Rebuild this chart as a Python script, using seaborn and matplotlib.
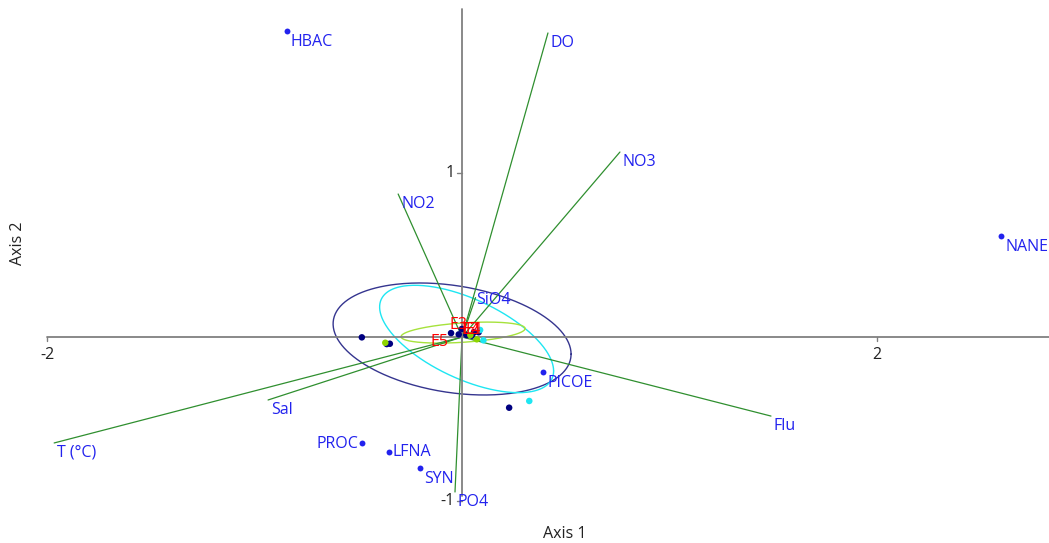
import numpy as np
import pandas as pd
import matplotlib
matplotlib.use("Agg")
import matplotlib.pyplot as plt
import seaborn as sns

# ---- biplot data -------------------------------------------------------
# species (variable) points
species = ["HBAC", "NANE", "PICOE", "PROC", "LFNA", "SYN"]
species_x = [-0.845, 2.598, 0.392, -0.482, -0.352, -0.202]
species_y = [1.868, 0.616, -0.212, -0.646, -0.701, -0.799]

# environmental vectors (drawn from the origin)
env = ["DO", "NO3", "NO2", "SiO4", "Sal", "T (°C)", "Flu", "PO4"]
env_x = [0.414, 0.761, -0.308, 0.065, -0.935, -1.966, 1.489, -0.034]
env_y = [1.854, 1.128, 0.872, 0.240, -0.384, -0.646, -0.482, -0.945]

# sample scores by group
navy_x = [-0.483, -0.363, -0.348, -0.053, -0.016, -0.001, 0.021, 0.048, 0.058, 0.080, 0.227]
navy_y = [-0.002, -0.043, -0.041, 0.024, 0.016, 0.049, 0.012, 0.008, 0.029, 0.029, -0.431]
cyan_x = [0.087, 0.103, 0.324]
cyan_y = [0.043, -0.020, -0.390]
lime_x = [-0.370, 0.071, 0.040]
lime_y = [-0.035, -0.014, 0.012]

# sample labels
samples = ["E2", "E4", "E3", "E1", "E5"]
sample_x = [0.040, 0.045, -0.019, 0.058, -0.111]
sample_y = [0.043, 0.043, 0.073, 0.043, -0.030]

# 95% ellipses: centre and covariance (xx, xy, yy)
ell_names = ["navy", "cyan", "lime"]
ell_cx = [-0.048, 0.022, 0.005]
ell_cy = [-0.012, -0.012, 0.027]
ell_xx = [0.3289, 0.1758, 0.0893]
ell_xy = [-0.0529, -0.0817, 0.0074]
ell_yy = [0.1166, 0.1072, 0.0041]

x_ticks = [-2, 2]
y_ticks = [1, -1]

# ---- styling -----------------------------------------------------------
sns.set_theme(style="white")
plt.rcParams["font.family"] = ["Open Sans", "DejaVu Sans"]
FS = 11.5
BLUE = "#2222ee"
NAVY = "#000080"
GREEN = "#2f8f2f"
ell_colors = {"navy": "#35358f", "cyan": "#1ee6f2", "lime": "#a6e23c"}
pt_colors = {"navy": NAVY, "cyan": "#1ee6f2", "lime": "#8ed400"}

fig = plt.figure(figsize=(10.49, 5.43), dpi=100)
ax = fig.add_axes([0, 0, 1, 1])
ax.set_xlim(-2.227, 2.829)
ax.set_ylim(-1.256, 2.055)
ax.axis("off")

# ellipses
t = np.linspace(0, 2 * np.pi, 361)
circle = np.vstack([np.cos(t), np.sin(t)])
for name, cx, cy, sxx, sxy, syy in zip(ell_names, ell_cx, ell_cy, ell_xx, ell_xy, ell_yy):
    L = np.linalg.cholesky(np.array([[sxx, sxy], [sxy, syy]]))
    pts = L @ circle
    df = pd.DataFrame({"x": cx + pts[0], "y": cy + pts[1]})
    sns.lineplot(data=df, x="x", y="y", sort=False, estimator=None,
                 color=ell_colors[name], lw=1.0, ax=ax, zorder=2)

# environmental vectors
for ex, ey in zip(env_x, env_y):
    ax.plot([0, ex], [0, ey], color=GREEN, lw=0.9, zorder=3)

# axes through the origin
ax.plot([-2, 2.829], [0, 0], color="#808080", lw=1.3, zorder=4)
ax.plot([0, 0], [-0.97, 2.0], color="#808080", lw=1.3, zorder=4)
for xt in x_ticks:
    ax.plot([xt, xt], [0, -0.024], color="#808080", lw=1.0, zorder=4)
    ax.annotate(f"{xt}", (xt, 0), xytext=(0, -18), textcoords="offset pixels",
                ha="center", va="center", fontsize=FS, color="#222222")
for yt in y_ticks:
    ax.plot([0, -0.024], [yt, yt], color="#808080", lw=1.0, zorder=4)
    ax.annotate(f"{yt}", (0, yt), xytext=(-7, 0), textcoords="offset pixels",
                ha="right", va="center", fontsize=FS, color="#222222")

# sample points
groups = pd.concat([
    pd.DataFrame({"x": navy_x, "y": navy_y, "g": "navy"}),
    pd.DataFrame({"x": cyan_x, "y": cyan_y, "g": "cyan"}),
    pd.DataFrame({"x": lime_x, "y": lime_y, "g": "lime"}),
])
sns.scatterplot(data=groups, x="x", y="y", hue="g", palette=pt_colors,
                s=22, linewidth=0, legend=False, ax=ax, zorder=5)

# species points
sp = pd.DataFrame({"x": species_x, "y": species_y})
sns.scatterplot(data=sp, x="x", y="y", color=BLUE, s=18, linewidth=0,
                legend=False, ax=ax, zorder=5)

ax.set_xlabel("")
ax.set_ylabel("")

# labels
sp_offsets = {"PROC": (-4, -1, "right", "center"), "LFNA": (3, 0, "left", "center")}
for name, x, y in zip(species, species_x, species_y):
    dx, dy, ha, va = sp_offsets.get(name, (4, -3, "left", "top"))
    ax.annotate(name, (x, y), xytext=(dx, dy), textcoords="offset pixels",
                ha=ha, va=va, fontsize=FS, color=BLUE, zorder=6)

env_offsets = {"SiO4": (1, 6, "left", "top")}
for name, x, y in zip(env, env_x, env_y):
    dx, dy, ha, va = env_offsets.get(name, (3, -2, "left", "top"))
    ax.annotate(name, (x, y), xytext=(dx, dy), textcoords="offset pixels",
                ha=ha, va=va, fontsize=FS, color=BLUE, zorder=6)

for name, x, y in zip(samples, sample_x, sample_y):
    ax.text(x, y, name, ha="center", va="center", fontsize=FS, color="red", zorder=7)

fig.text(565 / 1049, 1 - 534 / 543, "Axis 1", ha="center", va="center",
         fontsize=FS, color="#222222")
fig.text(18.5 / 1049, 1 - 243.5 / 543, "Axis 2", ha="center", va="center",
         rotation=90, fontsize=FS, color="#222222")

fig.savefig("out.png", dpi=100)
